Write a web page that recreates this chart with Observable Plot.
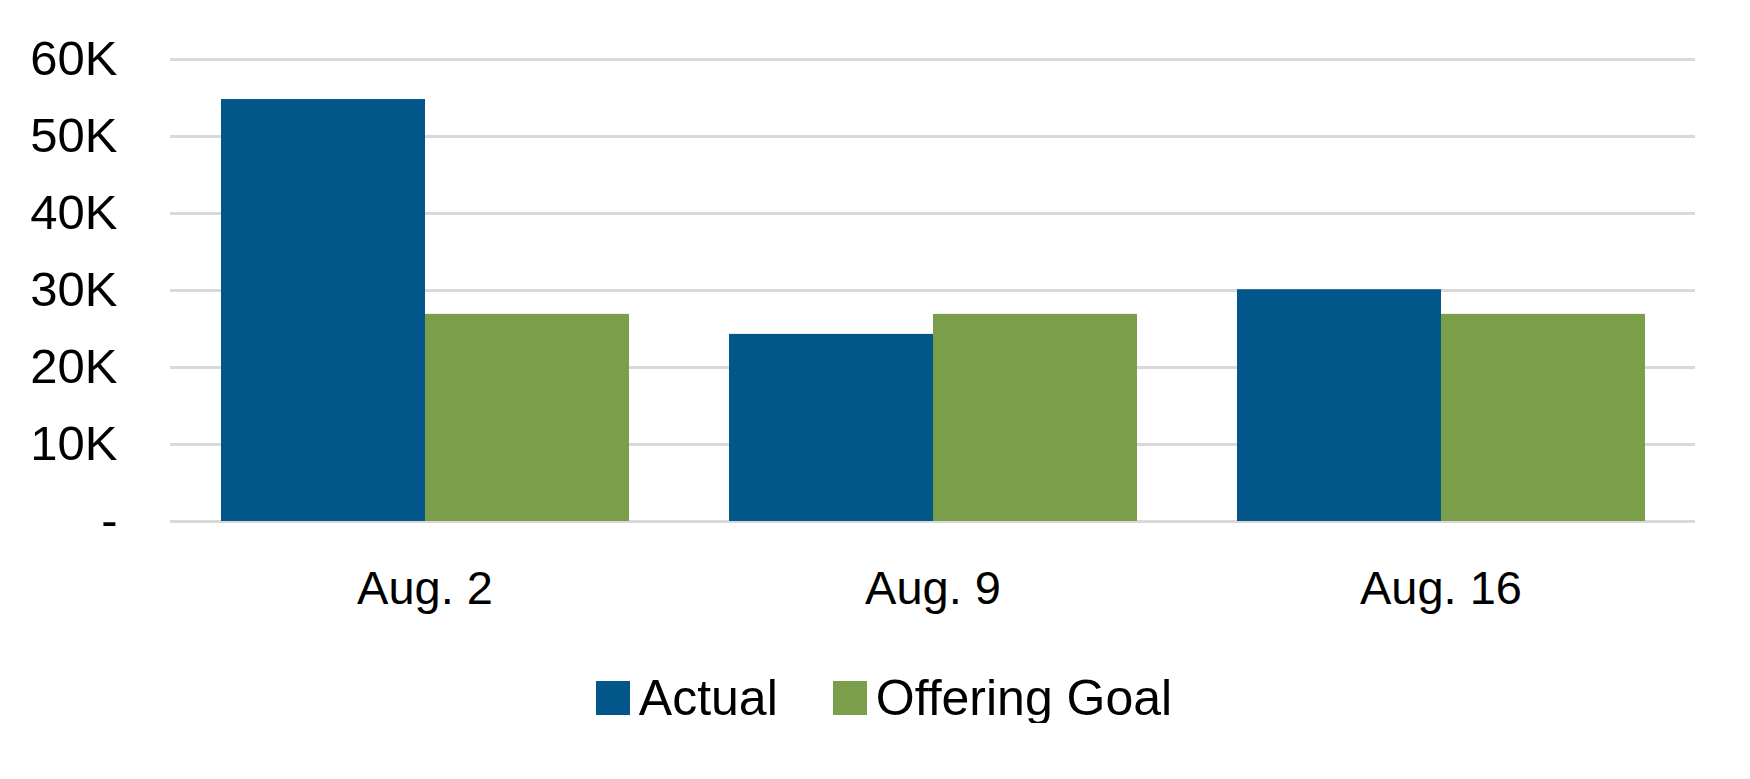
<!DOCTYPE html>
<html>
<head>
<meta charset="utf-8">
<script src="https://cdn.jsdelivr.net/npm/d3@7"></script>
<script src="https://cdn.jsdelivr.net/npm/@observablehq/plot@0.6"></script>
<style>
  html, body { margin: 0; padding: 0; background: #fff; }
  #chart { width: 1750px; }
  .legend { display: flex; justify-content: center; align-items: center; margin-top: 23px; padding-left: 18px; }
  .legend .item { display: flex; align-items: center; }
  .legend .sw { width: 34px; height: 34px; margin-right: 9px; }
  .legend .lab { font-family: "Liberation Sans", Arial, sans-serif; font-size: 50px; color: #000; line-height: 1; }
  .legend .item + .item { margin-left: 55px; }
</style>
</head>
<body>
<div id="chart"></div>
<script>
const weeks = ["Aug. 2", "Aug. 9", "Aug. 16"];
const seriesNames = ["Actual", "Offering Goal"];
const actual = [54800, 24300, 30100];
const offeringGoal = [26900, 26900, 26900];
const yTicks = [0, 10000, 20000, 30000, 40000, 50000, 60000];
const colors = ["#02568A", "#7B9E4A"];

const data = weeks.flatMap((w, i) => [
  {week: w, series: seriesNames[0], value: actual[i]},
  {week: w, series: seriesNames[1], value: offeringGoal[i]}
]);

const axisFamily = '"Liberation Sans", Arial, sans-serif';
const padIn = 0.195;
const gapHalf = 50;

const plot = Plot.plot({
  width: 1750,
  height: 650,
  marginLeft: 170,
  marginRight: 55,
  marginTop: 59,
  marginBottom: 129,
  style: {background: "#fff", color: "#000"},
  fx: {domain: weeks, paddingInner: padIn, paddingOuter: padIn / 2, label: null, axis: null},
  x: {domain: seriesNames, padding: 0, axis: null},
  y: {domain: [0, 60000], axis: null},
  color: {domain: seriesNames, range: colors},
  marks: [
    Plot.ruleY(yTicks, {y: d => d, stroke: "#D9D9D9", strokeWidth: 3, insetLeft: -gapHalf, insetRight: -gapHalf}),
    Plot.barY(data, {fx: "week", x: "series", y: "value", fill: "series"}),
    Plot.axisY({ticks: yTicks, tickSize: 0, tickPadding: 103, label: null,
      tickFormat: d => d === 0 ? "-" : (d / 1000) + "K",
      fontSize: 49, fontFamily: axisFamily, fill: "#000"}),
    Plot.axisFx({anchor: "bottom", tickSize: 0, tickPadding: 49, label: null,
      fontSize: 47, fontFamily: axisFamily, fill: "#000"})
  ]
});
document.getElementById("chart").appendChild(plot);

const legend = document.createElement("div");
legend.className = "legend";
seriesNames.forEach((name, i) => {
  const item = document.createElement("div");
  item.className = "item";
  const sw = document.createElement("div");
  sw.className = "sw";
  sw.style.background = colors[i];
  const lab = document.createElement("span");
  lab.className = "lab";
  lab.textContent = name;
  item.appendChild(sw); item.appendChild(lab);
  legend.appendChild(item);
});
document.getElementById("chart").appendChild(legend);
</script>
</body>
</html>
